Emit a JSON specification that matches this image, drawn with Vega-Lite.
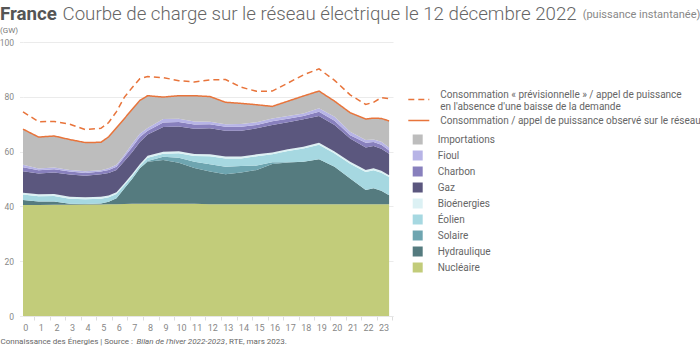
{
  "$schema": "https://vega.github.io/schema/vega-lite/v6.json",
  "width": 370,
  "height": 274,
  "autosize": {"type": "none"},
  "padding": {"left": 23, "top": 42, "right": 307, "bottom": 33},
  "background": "white",
  "config": {"font": "Roboto", "view": {"stroke": null}},
  "title": {
    "text": "France",
    "subtitle": "(GW)",
    "anchor": "start",
    "frame": "group",
    "dx": -23,
    "dy": 31,
    "offset": 0,
    "fontSize": 18.7,
    "fontWeight": "bold",
    "color": "#555555",
    "subtitleFontSize": 8,
    "subtitleColor": "#777777",
    "subtitlePadding": 3
  },
  "data": {
    "values": [
      {"h": 0, "Nucléaire": 40.5, "Hydraulique": 1.8, "Solaire": 0, "Éolien": 2.0, "Bioénergies": 0.7, "Gaz": 7.8, "Charbon": 1.5, "Fioul": 0.9, "Importations": 13.0, "obs": 68.2, "prev": 74.5},
      {"h": 1, "Nucléaire": 40.5, "Hydraulique": 1.3, "Solaire": 0, "Éolien": 1.9, "Bioénergies": 0.7, "Gaz": 7.6, "Charbon": 1.2, "Fioul": 0.6, "Importations": 11.5, "obs": 65.3, "prev": 70.9},
      {"h": 2, "Nucléaire": 40.6, "Hydraulique": 1.2, "Solaire": 0, "Éolien": 2.0, "Bioénergies": 0.7, "Gaz": 7.9, "Charbon": 1.2, "Fioul": 0.6, "Importations": 11.5, "obs": 65.7, "prev": 71.0},
      {"h": 3, "Nucléaire": 40.6, "Hydraulique": 0.4, "Solaire": 0, "Éolien": 1.8, "Bioénergies": 0.7, "Gaz": 8.1, "Charbon": 1.1, "Fioul": 0.6, "Importations": 11.1, "obs": 64.4, "prev": 70.0},
      {"h": 4, "Nucléaire": 40.7, "Hydraulique": 0.2, "Solaire": 0, "Éolien": 1.7, "Bioénergies": 0.7, "Gaz": 7.9, "Charbon": 1.0, "Fioul": 0.6, "Importations": 10.5, "obs": 63.3, "prev": 68.0},
      {"h": 5, "Nucléaire": 40.7, "Hydraulique": 0.4, "Solaire": 0, "Éolien": 1.7, "Bioénergies": 0.7, "Gaz": 8.2, "Charbon": 1.0, "Fioul": 0.5, "Importations": 10.2, "obs": 63.4, "prev": 68.5},
      {"h": 5.5, "Nucléaire": 40.8, "Hydraulique": 0.9, "Solaire": 0, "Éolien": 1.6, "Bioénergies": 0.7, "Gaz": 8.2, "Charbon": 1.1, "Fioul": 0.6, "Importations": 11.5, "obs": 65.4, "prev": 70.6},
      {"h": 6, "Nucléaire": 40.8, "Hydraulique": 2.2, "Solaire": 0, "Éolien": 1.5, "Bioénergies": 0.7, "Gaz": 8.1, "Charbon": 1.2, "Fioul": 0.7, "Importations": 13.5, "obs": 68.7, "prev": 74.6},
      {"h": 6.5, "Nucléaire": 40.9, "Hydraulique": 5.6, "Solaire": 0, "Éolien": 1.2, "Bioénergies": 0.7, "Gaz": 8.1, "Charbon": 1.5, "Fioul": 0.8, "Importations": 13.2, "obs": 72.0, "prev": 79.8},
      {"h": 7, "Nucléaire": 41.0, "Hydraulique": 9.0, "Solaire": 0, "Éolien": 1.0, "Bioénergies": 0.7, "Gaz": 8.1, "Charbon": 1.8, "Fioul": 1.2, "Importations": 12.6, "obs": 75.4, "prev": 83.3},
      {"h": 7.5, "Nucléaire": 41.0, "Hydraulique": 12.9, "Solaire": 0, "Éolien": 0.8, "Bioénergies": 0.7, "Gaz": 8.1, "Charbon": 1.8, "Fioul": 1.2, "Importations": 12.2, "obs": 78.7, "prev": 86.6},
      {"h": 8, "Nucléaire": 41.0, "Hydraulique": 15.3, "Solaire": 0.3, "Éolien": 1.2, "Bioénergies": 0.7, "Gaz": 7.7, "Charbon": 1.4, "Fioul": 1.0, "Importations": 11.8, "obs": 80.4, "prev": 87.4},
      {"h": 9, "Nucléaire": 41.0, "Hydraulique": 15.9, "Solaire": 1.2, "Éolien": 1.1, "Bioénergies": 0.7, "Gaz": 9.1, "Charbon": 1.6, "Fioul": 1.3, "Importations": 8.0, "obs": 79.9, "prev": 87.0},
      {"h": 10, "Nucléaire": 41.0, "Hydraulique": 14.9, "Solaire": 1.9, "Éolien": 1.6, "Bioénergies": 0.7, "Gaz": 9.1, "Charbon": 1.6, "Fioul": 1.2, "Importations": 8.4, "obs": 80.4, "prev": 85.9},
      {"h": 11, "Nucléaire": 41.0, "Hydraulique": 13.0, "Solaire": 2.3, "Éolien": 2.1, "Bioénergies": 0.7, "Gaz": 9.2, "Charbon": 1.6, "Fioul": 1.1, "Importations": 9.4, "obs": 80.4, "prev": 85.4},
      {"h": 12, "Nucléaire": 40.8, "Hydraulique": 11.9, "Solaire": 2.7, "Éolien": 2.9, "Bioénergies": 0.7, "Gaz": 9.5, "Charbon": 1.5, "Fioul": 0.9, "Importations": 9.2, "obs": 80.1, "prev": 86.2},
      {"h": 13, "Nucléaire": 40.8, "Hydraulique": 10.9, "Solaire": 2.8, "Éolien": 3.0, "Bioénergies": 0.7, "Gaz": 9.4, "Charbon": 1.5, "Fioul": 0.9, "Importations": 8.0, "obs": 78.0, "prev": 86.3},
      {"h": 14, "Nucléaire": 40.8, "Hydraulique": 11.6, "Solaire": 2.3, "Éolien": 2.8, "Bioénergies": 0.7, "Gaz": 9.4, "Charbon": 1.5, "Fioul": 1.0, "Importations": 7.5, "obs": 77.6, "prev": 83.5},
      {"h": 15, "Nucléaire": 40.8, "Hydraulique": 12.5, "Solaire": 1.6, "Éolien": 3.4, "Bioénergies": 0.7, "Gaz": 9.5, "Charbon": 1.2, "Fioul": 1.0, "Importations": 6.4, "obs": 77.1, "prev": 82.0},
      {"h": 16, "Nucléaire": 40.8, "Hydraulique": 14.7, "Solaire": 0.6, "Éolien": 2.9, "Bioénergies": 0.7, "Gaz": 10.0, "Charbon": 1.4, "Fioul": 1.0, "Importations": 4.4, "obs": 76.5, "prev": 82.1},
      {"h": 17, "Nucléaire": 40.8, "Hydraulique": 15.2, "Solaire": 0.1, "Éolien": 4.1, "Bioénergies": 0.7, "Gaz": 9.8, "Charbon": 1.3, "Fioul": 1.0, "Importations": 5.4, "obs": 78.4, "prev": 85.0},
      {"h": 18, "Nucléaire": 40.8, "Hydraulique": 15.5, "Solaire": 0, "Éolien": 4.8, "Bioénergies": 0.7, "Gaz": 10.0, "Charbon": 1.2, "Fioul": 0.9, "Importations": 6.4, "obs": 80.3, "prev": 88.0},
      {"h": 19, "Nucléaire": 40.8, "Hydraulique": 16.4, "Solaire": 0, "Éolien": 5.3, "Bioénergies": 0.7, "Gaz": 9.8, "Charbon": 1.5, "Fioul": 1.3, "Importations": 6.3, "obs": 82.1, "prev": 90.2},
      {"h": 20, "Nucléaire": 40.8, "Hydraulique": 13.7, "Solaire": 0, "Éolien": 4.8, "Bioénergies": 0.7, "Gaz": 9.7, "Charbon": 1.6, "Fioul": 1.4, "Importations": 5.7, "obs": 78.4, "prev": 86.0},
      {"h": 21, "Nucléaire": 40.8, "Hydraulique": 9.4, "Solaire": 0, "Éolien": 5.4, "Bioénergies": 0.7, "Gaz": 8.5, "Charbon": 1.2, "Fioul": 1.2, "Importations": 7.0, "obs": 74.2, "prev": 80.7},
      {"h": 22, "Nucléaire": 40.8, "Hydraulique": 5.2, "Solaire": 0, "Éolien": 6.6, "Bioénergies": 0.7, "Gaz": 8.2, "Charbon": 1.7, "Fioul": 1.0, "Importations": 7.7, "obs": 71.9, "prev": 77.2},
      {"h": 22.5, "Nucléaire": 40.8, "Hydraulique": 5.8, "Solaire": 0, "Éolien": 6.6, "Bioénergies": 0.7, "Gaz": 8.1, "Charbon": 1.5, "Fioul": 0.9, "Importations": 7.8, "obs": 72.2, "prev": 78.0},
      {"h": 23, "Nucléaire": 40.8, "Hydraulique": 4.9, "Solaire": 0, "Éolien": 6.6, "Bioénergies": 0.7, "Gaz": 8.0, "Charbon": 1.5, "Fioul": 1.1, "Importations": 8.5, "obs": 72.1, "prev": 79.7},
      {"h": 23.5, "Nucléaire": 40.8, "Hydraulique": 3.3, "Solaire": 0, "Éolien": 6.6, "Bioénergies": 0.7, "Gaz": 7.8, "Charbon": 1.2, "Fioul": 1.1, "Importations": 9.7, "obs": 71.2, "prev": 79.3}
    ]
  },
  "resolve": {
    "scale": {"strokeDash": "independent"},
    "legend": {"strokeDash": "independent"},
    "axis": {"x": "independent"}
  },
  "layer": [
    {
      "transform": [
        {"fold": ["Nucléaire", "Hydraulique", "Solaire", "Éolien", "Bioénergies", "Gaz", "Charbon", "Fioul", "Importations"], "as": ["source", "gw"]},
        {"calculate": "indexof(['Nucléaire', 'Hydraulique', 'Solaire', 'Éolien', 'Bioénergies', 'Gaz', 'Charbon', 'Fioul', 'Importations'], datum.source)", "as": "rang"}
      ],
      "mark": {"type": "area", "interpolate": "linear"},
      "encoding": {
        "x": {
          "field": "h",
          "type": "quantitative",
          "scale": {"domain": [0, 23.75], "nice": false, "zero": false},
          "axis": {
            "orient": "bottom",
            "values": [0, 1, 2, 3, 4, 5, 6, 7, 8, 9, 10, 11, 12, 13, 14, 15, 16, 17, 18, 19, 20, 21, 22, 23],
            "format": "d",
            "labelFontSize": 9,
            "labelColor": "#888888",
            "labelFlush": false,
            "labelOverlap": false,
            "tickOffset": 11,
            "labelOffset": -8.7,
            "tickColor": "#dddddd",
            "tickSize": 4,
            "labelPadding": 3,
            "domain": true,
            "domainColor": "#e6e6e6",
            "grid": false,
            "title": "Connaissance des Énergies | Source :",
            "titleX": -23,
            "titleY": 27,
            "titleAlign": "left",
            "titleBaseline": "alphabetic",
            "titleFontSize": 8,
            "titleFontWeight": "normal",
            "titleColor": "#666666",
            "titleLimit": 600
          }
        },
        "y": {
          "field": "gw",
          "type": "quantitative",
          "stack": "zero",
          "scale": {"domain": [0, 100], "nice": false},
          "axis": {
            "values": [0, 10, 20, 30, 40, 50, 60, 70, 80, 90, 100],
            "grid": true,
            "gridColor": "#ebebeb",
            "domain": false,
            "tickColor": "#ebebeb",
            "tickSize": 3.5,
            "labelPadding": 6,
            "labelFontSize": 8.5,
            "labelColor": "#888888",
            "title": "Courbe de charge sur le réseau électrique le 12 décembre 2022",
            "titleAngle": 0,
            "titleAlign": "left",
            "titleBaseline": "alphabetic",
            "titleX": 39,
            "titleY": -23,
            "titleFontSize": 18.7,
            "titleFontWeight": 300,
            "titleColor": "#666666",
            "titleLimit": 700
          }
        },
        "color": {
          "field": "source",
          "type": "nominal",
          "scale": {
            "domain": ["Importations", "Fioul", "Charbon", "Gaz", "Bioénergies", "Éolien", "Solaire", "Hydraulique", "Nucléaire"],
            "range": ["#bdbdbd", "#b7b4e6", "#8880bd", "#5b577e", "#dcf1f4", "#a6d8e1", "#6ea5b0", "#557b7f", "#c2cc7a"]
          },
          "legend": {
            "orient": "none",
            "legendX": 389.7,
            "legendY": 92.5,
            "title": null,
            "symbolType": "square",
            "symbolSize": 100,
            "symbolStrokeWidth": 0,
            "labelFontSize": 10,
            "labelColor": "#666666",
            "labelOffset": 15,
            "rowPadding": 6,
            "padding": 0
          }
        },
        "order": {"field": "rang", "type": "quantitative"}
      }
    },
    {
      "transform": [
        {"fold": ["prev"], "as": ["serie", "gw"]}
      ],
      "mark": {"type": "line", "color": "#e8743b", "strokeWidth": 1.5},
      "encoding": {
        "x": {
          "field": "h",
          "type": "quantitative",
          "axis": {
            "orient": "bottom",
            "labels": false,
            "ticks": false,
            "domain": false,
            "grid": false,
            "title": "Bilan de l'hiver 2022-2023",
            "titleX": 113,
            "titleY": 27,
            "titleAlign": "left",
            "titleBaseline": "alphabetic",
            "titleFontSize": 8,
            "titleFontWeight": "normal",
            "titleFontStyle": "italic",
            "titleColor": "#666666",
            "titleLimit": 600
          }
        },
        "y": {"field": "gw", "type": "quantitative"},
        "strokeDash": {
          "field": "serie",
          "type": "nominal",
          "scale": {"domain": ["prev"], "range": [[6, 4]]},
          "legend": {
            "orient": "none",
            "legendX": 384.3,
            "legendY": 46,
            "title": null,
            "symbolType": "stroke",
            "symbolSize": 441,
            "symbolDash": [5, 3],
            "symbolStrokeColor": "#e8743b",
            "symbolStrokeWidth": 1.5,
            "labelFontSize": 10,
            "labelColor": "#666666",
            "labelOffset": 10,
            "labelLimit": 400,
            "labelBaseline": "bottom",
            "padding": 0,
            "labelExpr": "[\"Consommation « prévisionnelle » / appel de puissance\", \"en l'absence d'une baisse de la demande\"]"
          }
        }
      }
    },
    {
      "transform": [
        {"fold": ["obs"], "as": ["serie", "gw"]}
      ],
      "mark": {"type": "line", "color": "#e8743b", "strokeWidth": 1.5},
      "encoding": {
        "x": {
          "field": "h",
          "type": "quantitative",
          "axis": {
            "orient": "bottom",
            "labels": false,
            "ticks": false,
            "domain": false,
            "grid": false,
            "title": ", RTE, mars 2023.",
            "titleX": 202,
            "titleY": 27,
            "titleAlign": "left",
            "titleBaseline": "alphabetic",
            "titleFontSize": 8,
            "titleFontWeight": "normal",
            "titleColor": "#666666",
            "titleLimit": 600
          }
        },
        "y": {"field": "gw", "type": "quantitative"},
        "strokeDash": {
          "field": "serie",
          "type": "nominal",
          "scale": {"domain": ["obs"], "range": [[1, 0]]},
          "legend": {
            "orient": "none",
            "legendX": 384.3,
            "legendY": -33,
            "title": "(puissance instantanée)",
            "titleAnchor": "end",
            "titleFontSize": 11,
            "titleFontWeight": "normal",
            "titleColor": "#888888",
            "titlePadding": 89,
            "titleLimit": 400,
            "symbolType": "stroke",
            "symbolSize": 441,
            "symbolStrokeColor": "#e8743b",
            "symbolStrokeWidth": 1.5,
            "labelFontSize": 10,
            "labelColor": "#666666",
            "labelOffset": 10,
            "labelLimit": 400,
            "padding": 0,
            "labelExpr": "'Consommation / appel de puissance observé sur le réseau'"
          }
        }
      }
    }
  ]
}
